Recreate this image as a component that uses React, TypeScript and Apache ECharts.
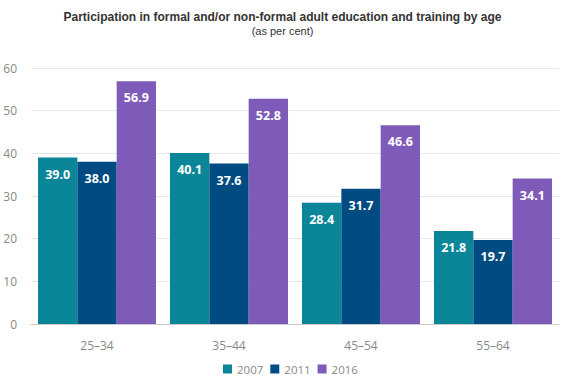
import React, { useEffect, useRef } from "react";
import * as echarts from "echarts";

const categories = ["25–34", "35–44", "45–54", "55–64"];
const s2007 = [39.0, 40.1, 28.4, 21.8];
const s2011 = [38.0, 37.6, 31.7, 19.7];
const s2016 = [56.9, 52.8, 46.6, 34.1];
const seriesNames = ["2007", "2011", "2016"];
const colors = ["#0b8598", "#004b82", "#7f5bb9"];

export default function App() {
  const ref = useRef<HTMLDivElement>(null);
  useEffect(() => {
    const chart = echarts.init(ref.current!, null, { renderer: "svg" });
    const label = {
      show: true,
      position: "insideTop",
      distance: 10,
      color: "#fff",
      fontWeight: "bold",
      fontSize: 12.5,
      fontFamily: "Open Sans, sans-serif",
      formatter: (p: any) => p.value.toFixed(1),
    };
    const data = [s2007, s2011, s2016];
    chart.setOption({
      animation: false,
      title: {
        text: "Participation in formal and/or non-formal adult education and training by age",
        subtext: "(as per cent)",
        left: "center",
        top: 6,
        itemGap: 2,
        textStyle: { fontFamily: "Liberation Sans, Arial, sans-serif", fontSize: 12, fontWeight: "bold", color: "#333" },
        subtextStyle: { fontFamily: "Liberation Sans, Arial, sans-serif", fontSize: 11, color: "#333" },
      },
      legend: {
        bottom: 7,
        left: 223,
        padding: 0,
        itemWidth: 9,
        itemHeight: 9,
        itemGap: 7,
        icon: "rect",
        textStyle: { color: "#888", fontSize: 11.5, fontFamily: "Open Sans, sans-serif" },
        data: seriesNames,
      },
      grid: { left: 31, right: 6, top: 68, bottom: 58, containLabel: false, outerBoundsMode: "none" },
      xAxis: {
        type: "category",
        data: categories,
        axisTick: { show: false },
        axisLine: { lineStyle: { color: "#ccc" } },
        axisLabel: { color: "#888", fontSize: 12, margin: 15, fontFamily: "Open Sans, sans-serif" },
      },
      yAxis: {
        type: "value",
        min: 0,
        max: 60,
        interval: 10,
        axisLabel: { color: "#888", fontSize: 12, margin: 14, fontFamily: "Open Sans, sans-serif" },
        splitLine: { lineStyle: { color: "#e6e6e6" } },
      },
      series: seriesNames.map((n, i) => ({
        name: n,
        type: "bar",
        data: data[i],
        barGap: "0%",
        barCategoryGap: "10.6%",
        itemStyle: { color: colors[i] },
        label,
      })),
    });
    return () => chart.dispose();
  }, []);
  return <div ref={ref} style={{ position: "absolute", left: 0, top: 0, width: 565, height: 382 }} />;
}
